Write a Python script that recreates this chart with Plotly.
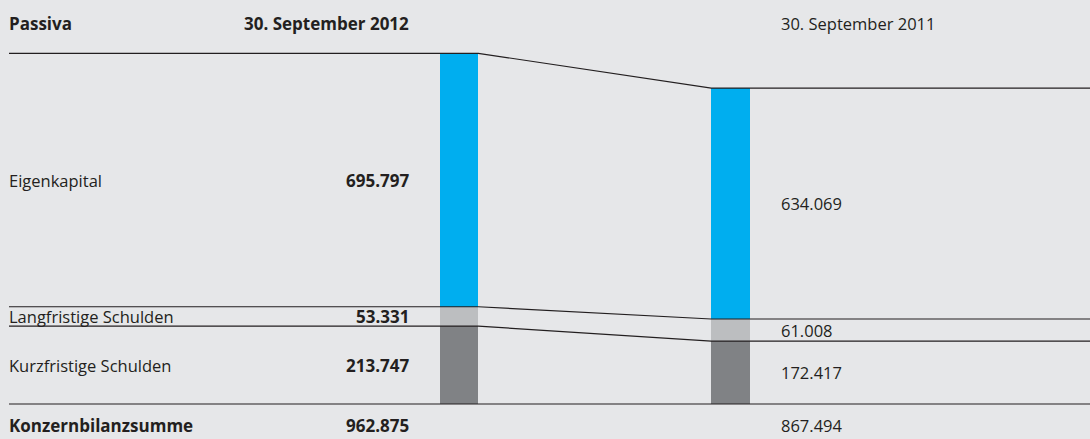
import plotly.graph_objects as go

# Passiva (TEUR) per balance sheet date
years = ["30. September 2012", "30. September 2011"]
categories = ["Eigenkapital", "Langfristige Schulden", "Kurzfristige Schulden"]
eigenkapital = [695.797, 634.069]
langfristig = [53.331, 61.008]
kurzfristig = [213.747, 172.417]
totals = [962.875, 867.494]
total_label = "Konzernbilanzsumme"
header_label = "Passiva"

def fmt(v):
    return f"{v:.3f}"

BG = "#e6e7e9"
INK = "#231f20"
COLORS = {"Eigenkapital": "#00aeef", "Langfristige Schulden": "#bcbec0",
          "Kurzfristige Schulden": "#808285"}
FONT = "Open Sans"
FS_REG = 16.5
FS_BOLD = 17

# horizontal layout in pixel units of the x axis
X_LEFT, X_RIGHT = 9, 1090
TEXT_LEFT = 7
BAR_X = [459.0, 730.5]
BAR_W = 38.5
LABEL_RIGHT = 411          # right edge of the 2012 value column
LABEL_2011 = 779           # left edge of the 2011 value column

# vertical scale: y=0 sits on the baseline, totals at the top of the bars
PX_PER_UNIT = 0.3642
H = 439
BASE_PX = 404
y_lo = -(H - BASE_PX) / PX_PER_UNIT
y_hi = y_lo + H / PX_PER_UNIT

def px_to_y(p):
    return (BASE_PX - p) / PX_PER_UNIT

fig = go.Figure()

series = {"Kurzfristige Schulden": kurzfristig,
          "Langfristige Schulden": langfristig,
          "Eigenkapital": eigenkapital}
for name, vals in series.items():
    fig.add_trace(go.Bar(x=BAR_X, y=vals, width=BAR_W, name=name,
                         marker=dict(color=COLORS[name], line=dict(width=0)),
                         hoverinfo="skip"))

# segment boundaries per year (bottom to top)
b_kurz = [k for k in kurzfristig]
b_lang = [k + l for k, l in zip(kurzfristig, langfristig)]
b_top = [k + l + e for k, l, e in zip(kurzfristig, langfristig, eigenkapital)]

left_edge = [BAR_X[0] - BAR_W / 2, BAR_X[1] - BAR_W / 2]
right_edge = [BAR_X[0] + BAR_W / 2, BAR_X[1] + BAR_W / 2]

for b in (b_top, b_lang, b_kurz):
    fig.add_trace(go.Scatter(
        x=[X_LEFT, right_edge[0], left_edge[1], X_RIGHT],
        y=[b[0], b[0], b[1], b[1]],
        mode="lines", line=dict(color=INK, width=1.2), hoverinfo="skip"))

# baseline
fig.add_trace(go.Scatter(x=[X_LEFT, X_RIGHT], y=[0, 0], mode="lines",
                         line=dict(color=INK, width=1.2), hoverinfo="skip"))

ann = []

def add(text, x, y, anchor, bold=False):
    ann.append(dict(text=f"<b>{text}</b>" if bold else text, x=x, y=y,
                    xref="x", yref="y", xanchor=anchor, yanchor="middle",
                    showarrow=False,
                    font=dict(family=FONT, size=FS_BOLD if bold else FS_REG,
                              color=INK)))

# headers
y_head = px_to_y(23)
add(header_label, TEXT_LEFT, y_head, "left", bold=True)
add(years[0], LABEL_RIGHT, y_head, "right", bold=True)
add(years[1], LABEL_2011, y_head, "left")

# category labels and values at the middle of each segment
mids_12 = [(b_lang[0] + b_top[0]) / 2, (b_kurz[0] + b_lang[0]) / 2, b_kurz[0] / 2]
mids_11 = [(b_lang[1] + b_top[1]) / 2, (b_kurz[1] + b_lang[1]) / 2, b_kurz[1] / 2]
vals_12 = [eigenkapital[0], langfristig[0], kurzfristig[0]]
vals_11 = [eigenkapital[1], langfristig[1], kurzfristig[1]]
for cat, m12, m11, v12, v11 in zip(categories, mids_12, mids_11, vals_12, vals_11):
    add(cat, TEXT_LEFT, m12, "left")
    add(fmt(v12), LABEL_RIGHT, m12, "right", bold=True)
    add(fmt(v11), LABEL_2011, m11, "left")

# totals row below the baseline
y_tot = px_to_y(425)
add(total_label, TEXT_LEFT, y_tot, "left", bold=True)
add(fmt(totals[0]), LABEL_RIGHT, y_tot, "right", bold=True)
add(fmt(totals[1]), LABEL_2011, y_tot, "left")

fig.update_layout(
    width=1090, height=H,
    margin=dict(l=0, r=0, t=0, b=0),
    paper_bgcolor=BG, plot_bgcolor=BG,
    barmode="stack", bargap=0,
    showlegend=False,
    annotations=ann,
    xaxis=dict(range=[0, 1090], visible=False, fixedrange=True),
    yaxis=dict(range=[y_lo, y_hi], visible=False, fixedrange=True),
)

fig.write_html("out.html")
